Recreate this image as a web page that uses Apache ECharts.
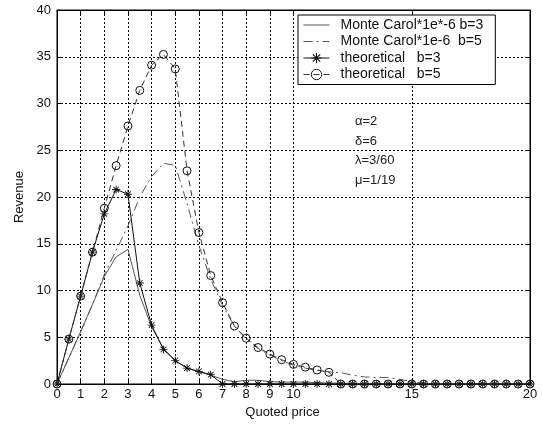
<!DOCTYPE html>
<html>
<head>
<meta charset="utf-8">
<script src="https://cdn.jsdelivr.net/npm/echarts@6/dist/echarts.min.js"></script>
<style>
  html, body { margin: 0; padding: 0; background: #fff; }
  #chart { width: 542px; height: 428px; }
</style>
</head>
<body>
<div id="chart"></div>
<script>
// Quoted price grid (step 0.5)
const prices = [0, 0.5, 1, 1.5, 2, 2.5, 3, 3.5, 4, 4.5, 5, 5.5, 6, 6.5, 7, 7.5, 8, 8.5, 9, 9.5,
  10, 10.5, 11, 11.5, 12, 12.5, 13, 13.5, 14, 14.5, 15, 15.5, 16, 16.5, 17, 17.5, 18, 18.5, 19, 19.5, 20];

// Simulated revenue (scaled by 1e-6)
const monteCarloB3 = [0, 2.8, 5.6, 8.5, 11.5, 13.6, 14.4, 9.5, 6.1, 3.8, 2.5, 1.7, 1.3, 0.95, 0.5, 0.25,
  0.4, 0.4, 0.25, 0.2, 0.2, 0.2, 0.15, 0.1, 0.1, 0.05, 0, 0, 0, 0, 0, 0, 0, 0, 0, 0, 0, 0, 0, 0, 0];
const monteCarloB5 = [0, 2.8, 5.6, 8.5, 11.7, 14.3, 16.9, 20.0, 22.2, 23.6, 23.4, 19.3, 14.8, 11.2, 8.4, 6.2,
  4.8, 3.8, 3.1, 2.5, 2.0, 1.7, 1.45, 1.3, 1.2, 0.95, 0.75, 0.7, 0.7, 0.5, 0.25, 0.05, 0, 0, 0, 0, 0, 0, 0, 0, 0];

// Theoretical revenue
const theoryB3 = [0, 4.8, 9.4, 14.1, 18.2, 20.8, 20.3, 10.8, 6.3, 3.7, 2.5, 1.7, 1.35, 1.0, 0, 0,
  0, 0, 0, 0, 0, 0, 0, 0, 0, 0, 0, 0, 0, 0, 0, 0, 0, 0, 0, 0, 0, 0, 0, 0, 0];
const theoryB5 = [0, 4.8, 9.4, 14.1, 18.8, 23.35, 27.6, 31.4, 34.1, 35.25, 33.7, 22.8, 16.2, 11.6, 8.7, 6.2,
  4.9, 3.9, 3.2, 2.6, 2.1, 1.8, 1.5, 1.25, 0, 0, 0, 0, 0, 0, 0, 0, 0, 0, 0, 0, 0, 0, 0, 0, 0];

const seriesNames = ['Monte Carol*1e*-6 b=3', 'Monte Carol*1e-6  b=5', 'theoretical   b=3', 'theoretical   b=5'];
const xTicks = [0, 1, 2, 3, 4, 5, 6, 7, 8, 9, 10, 15, 20];
const params = ['\u03b1=2', '\u03b4=6', '\u03bb=3/60', '\u03bc=1/19'];

const pair = ys => prices.map((x, i) => [x, ys[i]]);

// asterisk marker built from four thin bars
function barPath(angleDeg, len, w) {
  const a = angleDeg * Math.PI / 180;
  const dx = Math.cos(a) * len, dy = Math.sin(a) * len;
  const nx = -Math.sin(a) * w, ny = Math.cos(a) * w;
  const p = [[-dx - nx, -dy - ny], [dx - nx, dy - ny], [dx + nx, dy + ny], [-dx + nx, -dy + ny]];
  return 'M' + p.map(q => q[0].toFixed(3) + ',' + q[1].toFixed(3)).join('L') + 'Z';
}
const starSymbol = 'path://' + [0, 45, 90, 135].map(a => barPath(a, 5, 0.55)).join('');

const font = 'Liberation Sans, Arial, Helvetica, sans-serif';
const textColor = '#111';
const gridDash = { color: '#000', type: [2, 2], width: 1 };

const mcColor = '#555';
const dashDot = [9, 4, 2, 4];
const dashed = [6, 4];

const chart = echarts.init(document.getElementById('chart'), null, { renderer: 'canvas' });

chart.setOption({
  animation: false,
  backgroundColor: '#fff',
  textStyle: { fontFamily: font },
  grid: { left: 57, top: 10, right: 12, bottom: 44, show: true, borderColor: '#000', borderWidth: 1, backgroundColor: '#fff' },
  legend: {
    orient: 'vertical',
    left: 298,
    top: 15,
    padding: [3, 12, 3, 5],
    itemWidth: 26,
    itemHeight: 13,
    itemGap: 2.5,
    borderColor: '#000',
    borderWidth: 1,
    borderRadius: 0,
    backgroundColor: '#fff',
    textStyle: { fontFamily: font, fontSize: 14, color: textColor, padding: [0, 0, 0, 6] },
    data: [
      { name: seriesNames[0], itemStyle: { color: 'rgba(0,0,0,0)', borderWidth: 0 },
        lineStyle: { color: mcColor, width: 1, type: 'solid' } },
      { name: seriesNames[1], itemStyle: { color: 'rgba(0,0,0,0)', borderWidth: 0 },
        lineStyle: { color: mcColor, width: 1, type: dashDot } },
      { name: seriesNames[2], itemStyle: { color: '#111', borderWidth: 0 },
        lineStyle: { color: '#111', width: 1, type: 'solid' } },
      { name: seriesNames[3], itemStyle: { color: 'rgba(0,0,0,0)', borderColor: '#111', borderWidth: 1 },
        lineStyle: { color: '#333', width: 1, type: dashed } }
    ]
  },
  xAxis: [{
    type: 'value', min: 0, max: 20, interval: 1,
    name: 'Quoted price', nameLocation: 'middle', nameGap: 22,
    nameTextStyle: { fontFamily: font, fontSize: 13, color: textColor, padding: [0, 22, 0, 0] },
    axisLine: { show: true, onZero: false, lineStyle: { color: '#000', width: 1 } },
    axisTick: { show: true, inside: true, length: 4, customValues: xTicks, lineStyle: { color: '#000' } },
    axisLabel: { customValues: xTicks, fontFamily: font, fontSize: 13, color: textColor, margin: 4 },
    splitLine: { show: true, lineStyle: gridDash }
  }, {
    type: 'value', min: 0, max: 20, position: 'top',
    axisLine: { show: true, onZero: false, lineStyle: { color: '#000' } },
    axisTick: { show: true, inside: true, length: 4, customValues: xTicks, lineStyle: { color: '#000' } },
    axisLabel: { show: false },
    splitLine: { show: false }
  }],
  yAxis: [{
    type: 'value', min: 0, max: 40, interval: 5,
    name: 'Revenue', nameLocation: 'middle', nameGap: 28,
    nameTextStyle: { fontFamily: font, fontSize: 13, color: textColor },
    axisLine: { show: true, onZero: false, lineStyle: { color: '#000', width: 1 } },
    axisTick: { show: true, inside: true, length: 4, lineStyle: { color: '#000' } },
    axisLabel: { fontFamily: font, fontSize: 13, color: textColor, margin: 6 },
    splitLine: { show: true, lineStyle: gridDash }
  }, {
    type: 'value', min: 0, max: 40, interval: 5, position: 'right',
    axisLine: { show: true, onZero: false, lineStyle: { color: '#000' } },
    axisTick: { show: true, inside: true, length: 4, lineStyle: { color: '#000' } },
    axisLabel: { show: false },
    splitLine: { show: false }
  }],
  graphic: params.map((t, i) => ({
    type: 'text', left: 355, top: 115 + i * 19.5,
    style: { text: t, font: '13px ' + font, fill: '#222' }
  })),
  series: [
    {
      name: seriesNames[0], type: 'line', data: pair(monteCarloB3),
      symbol: 'none', lineStyle: { color: mcColor, width: 1, type: 'solid' },
      itemStyle: { color: mcColor }, z: 2
    },
    {
      name: seriesNames[1], type: 'line', data: pair(monteCarloB5),
      symbol: 'none', lineStyle: { color: mcColor, width: 1, type: dashDot },
      itemStyle: { color: mcColor }, z: 2
    },
    {
      name: seriesNames[2], type: 'line', data: pair(theoryB3),
      symbol: starSymbol, symbolSize: 8, showAllSymbol: true,
      lineStyle: { color: '#111', width: 1 },
      itemStyle: { color: '#111' }, z: 3
    },
    {
      name: seriesNames[3], type: 'line', data: pair(theoryB5),
      symbol: 'circle', symbolSize: 8, showAllSymbol: true,
      lineStyle: { color: '#333', width: 1, type: dashed },
      itemStyle: { color: 'rgba(0,0,0,0)', borderColor: '#111', borderWidth: 1 }, z: 4
    }
  ]
});
</script>
</body>
</html>
